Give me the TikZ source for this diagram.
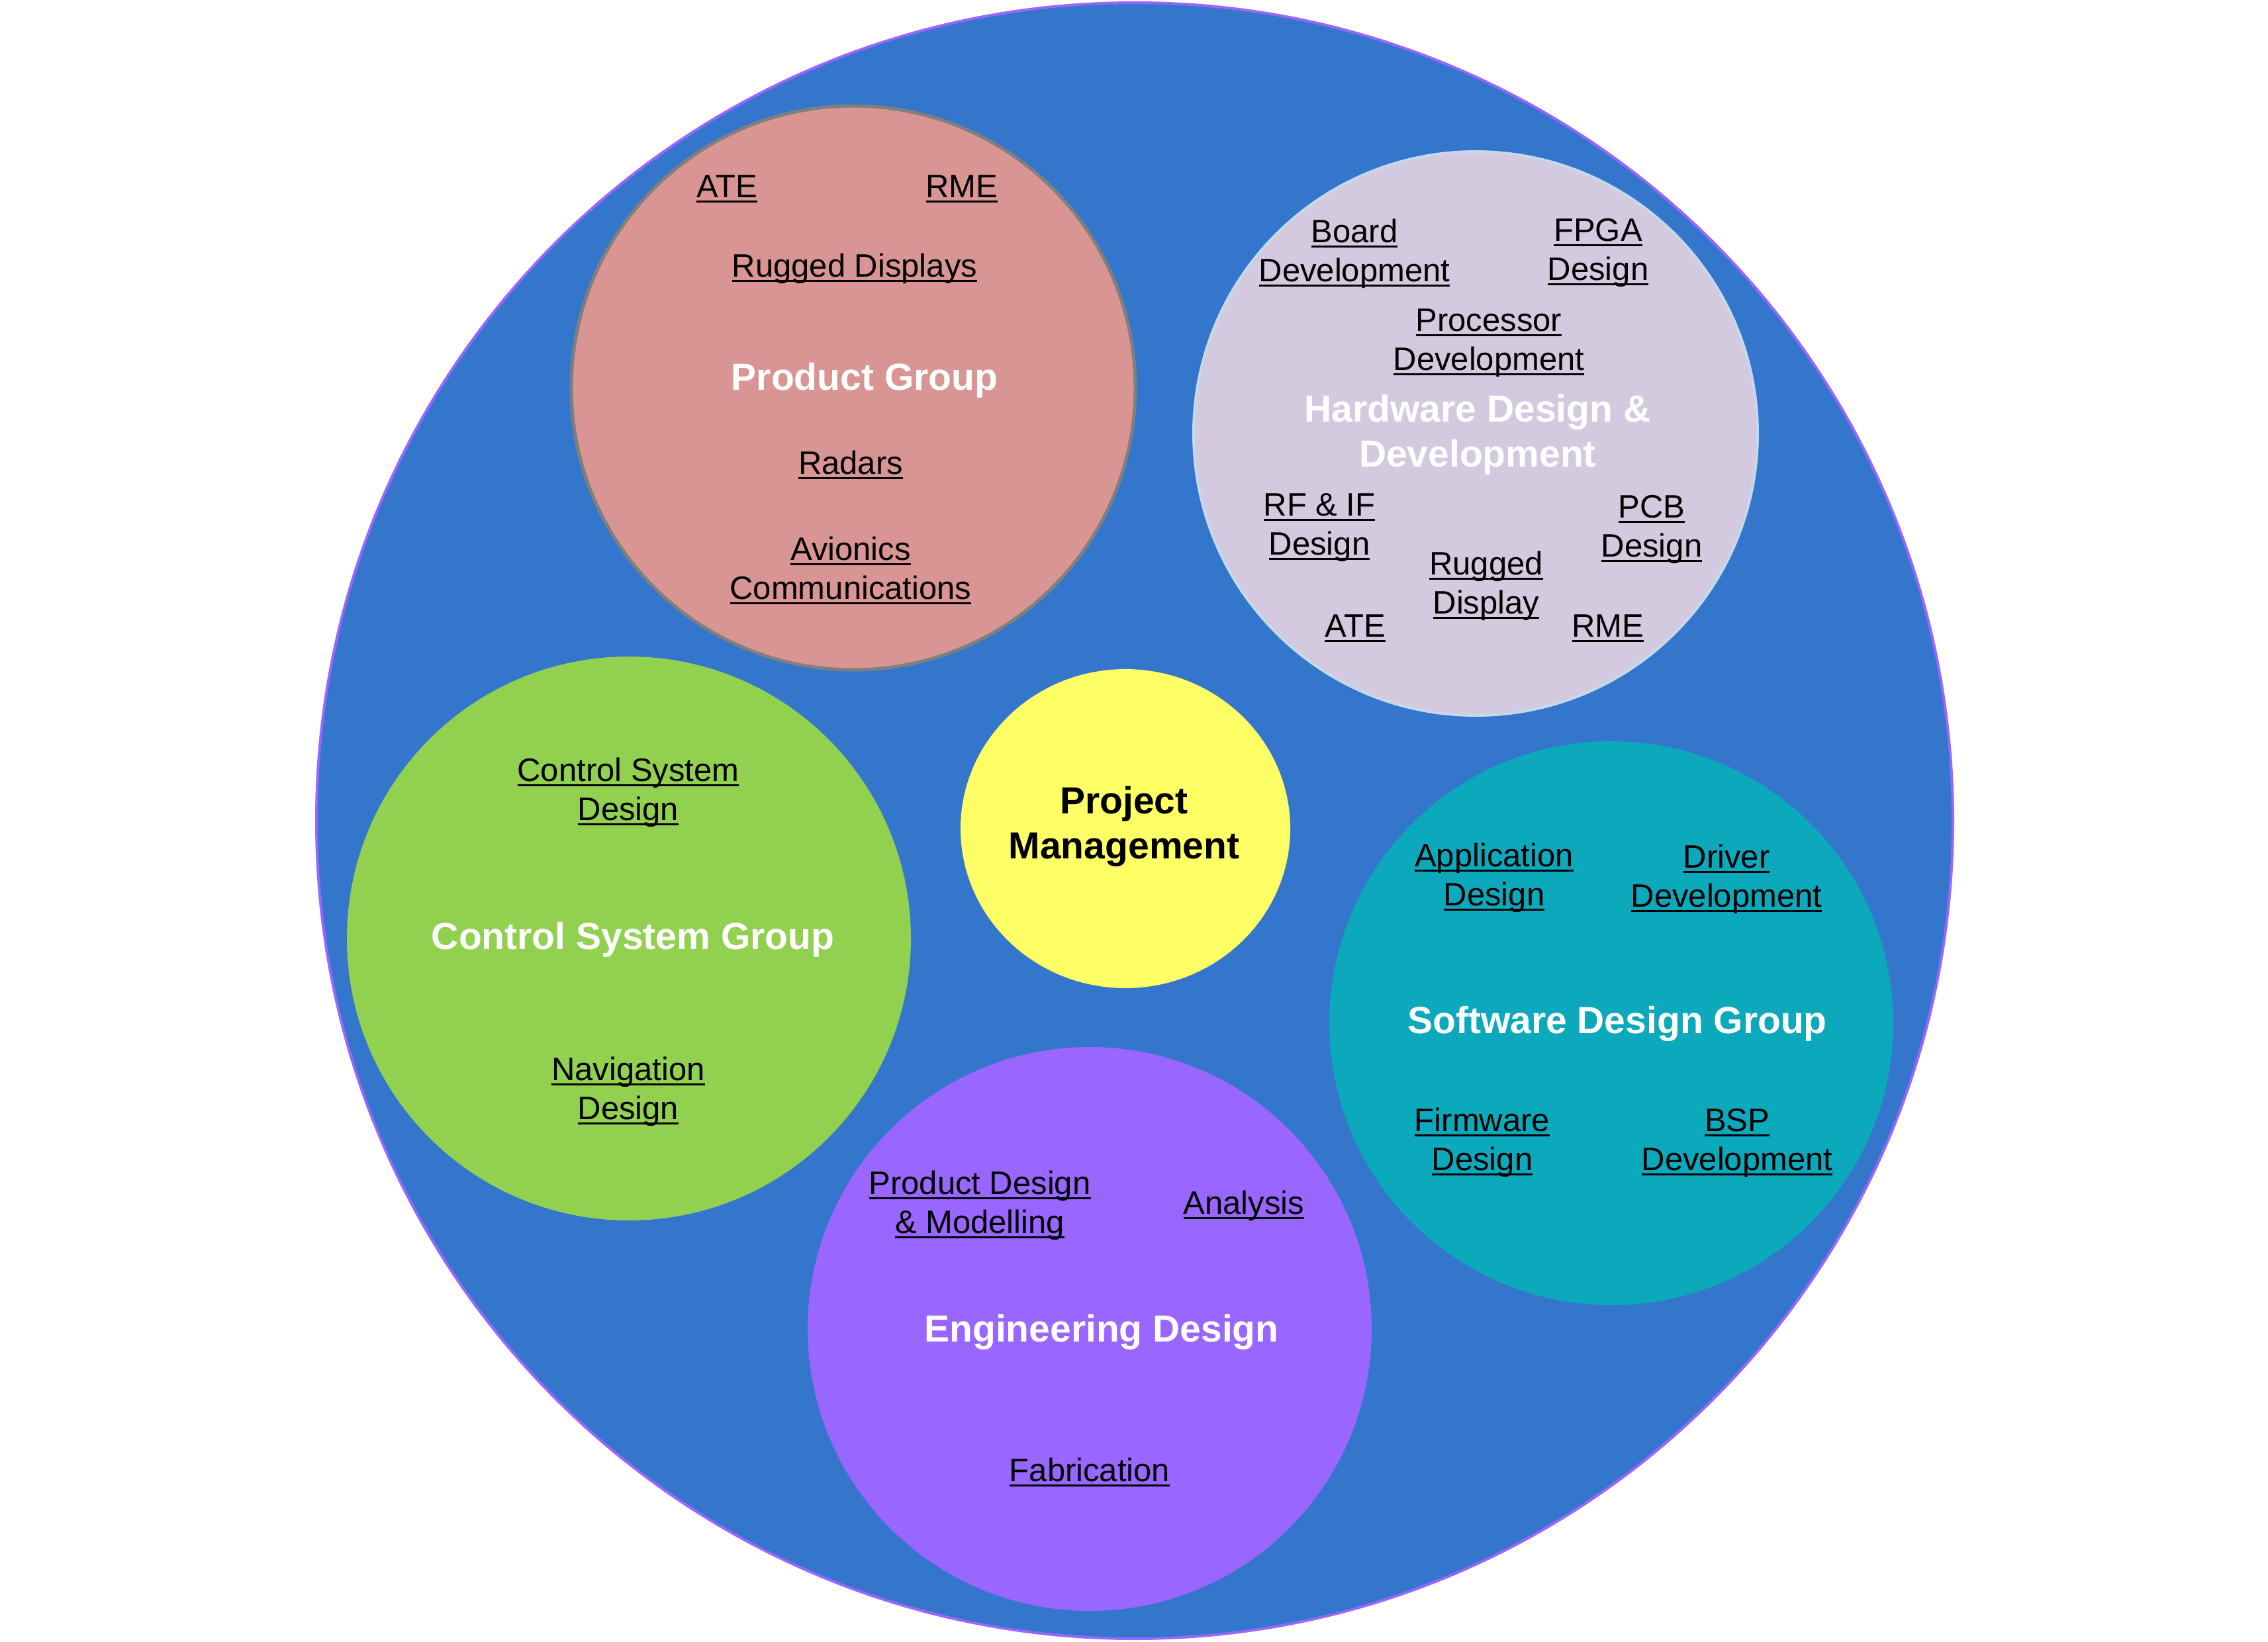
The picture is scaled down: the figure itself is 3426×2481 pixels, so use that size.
\documentclass[tikz,border=0pt]{standalone}
\usepackage{fontspec}
\setmainfont{Liberation Sans}
\usetikzlibrary{shapes.geometric}
\definecolor{bigblue}{HTML}{3476CC}
\definecolor{bigedge}{HTML}{9966FF}
\definecolor{prodfill}{HTML}{D99594}
\definecolor{prodedge}{HTML}{7F7F7F}
\definecolor{hwfill}{HTML}{D3CAE0}
\definecolor{hwedge}{HTML}{C5D9EA}
\definecolor{pmfill}{HTML}{FFFF66}
\definecolor{ctrlfill}{HTML}{92D050}
\definecolor{swfill}{HTML}{0CA8BC}
\definecolor{engfill}{HTML}{9966FF}
\newcommand\ulx[1]{\setbox0=\hbox{#1}\rlap{\rule[-0.17em]{\wd0}{0.065em}}\box0}
\newcommand\twol[2]{\vtop{\halign{\hfil##\hfil\cr\ulx{#1}\cr\ulx{#2}\cr}}}
\newcommand\twop[2]{\vtop{\halign{\hfil##\hfil\cr#1\cr#2\cr}}}
\begin{document}
\begin{tikzpicture}[x=1pt,y=-1pt,
  grp/.style={circle, minimum size=852pt, inner sep=0pt},
  sub/.style={font=\fontsize{49}{59}\selectfont, text=black, anchor=base, inner sep=0pt},
  ttl/.style={font=\fontsize{57}{68}\selectfont\bfseries, text=white, anchor=base, inner sep=0pt}]
\useasboundingbox (0,0) rectangle (3426,2481);
% outer circle
\node[circle, minimum size=2472pt, inner sep=0pt, fill=bigblue, draw=bigedge, line width=4pt] (outer) at (1714,1240) {};
% group circles
\node[grp, fill=prodfill, draw=prodedge, line width=5pt] (prod) at (1289,586) {};
\node[grp, fill=hwfill, draw=hwedge, line width=4pt] (hw) at (2229,655) {};
\node[grp, fill=ctrlfill] (ctrl) at (950,1418) {};
\node[grp, fill=swfill] (sw) at (2434,1546) {};
\node[grp, fill=engfill] (eng) at (1646,2008) {};
\node[ellipse, minimum width=498pt, minimum height=482pt, inner sep=0pt, fill=pmfill] (pm) at (1700,1252) {};
% Product Group
\node[sub] (p-ate) at (1098,298) {\ulx{ATE}};
\node[sub] (p-rme) at (1453,298) {\ulx{RME}};
\node[sub] (p-rug) at (1291,418) {\ulx{Rugged Displays}};
\node[ttl] (p-ttl) at (1306,589) {Product Group};
\node[sub] (p-rad) at (1285,716) {\ulx{Radars}};
\node[sub] (p-avi) at (1285,846) {\twol{Avionics}{Communications}};
% Hardware
\node[sub] (h-board) at (2046,366) {\twol{Board}{Development}};
\node[sub] (h-fpga) at (2414,364) {\twol{FPGA}{Design}};
\node[sub] (h-proc) at (2249,500) {\twol{Processor}{Development}};
\node[ttl] (h-ttl) at (2232,637) {\twop{Hardware Design \&}{Development}};
\node[sub] (h-rf) at (1993,779) {\twol{RF \& IF}{Design}};
\node[sub] (h-pcb) at (2495,782) {\twol{PCB}{Design}};
\node[sub] (h-rug) at (2245,868) {\twol{Rugged}{Display}};
\node[sub] (h-ate) at (2047,962) {\ulx{ATE}};
\node[sub] (h-rme) at (2429,962) {\ulx{RME}};
% Project Management
\node[ttl, text=black] (pm-ttl) at (1698,1229) {\twop{Project}{Management}};
% Control System Group
\node[sub] (c-csd) at (949,1180) {\twol{Control System}{Design}};
\node[ttl] (c-ttl) at (956,1434) {Control System Group};
\node[sub] (c-nav) at (949,1632) {\twol{Navigation}{Design}};
% Software Design Group
\node[sub] (s-app) at (2257,1309) {\twol{Application}{Design}};
\node[sub] (s-drv) at (2608,1311) {\twol{Driver}{Development}};
\node[ttl] (s-ttl) at (2443,1561) {Software Design Group};
\node[sub] (s-fw) at (2239,1709) {\twol{Firmware}{Design}};
\node[sub] (s-bsp) at (2624,1709) {\twol{BSP}{Development}};
% Engineering Design
\node[sub] (e-pdm) at (1480,1804) {\twol{Product Design}{\& Modelling}};
\node[sub] (e-ana) at (1879,1834) {\ulx{Analysis}};
\node[ttl] (e-ttl) at (1664,2027) {Engineering Design};
\node[sub] (e-fab) at (1646,2238) {\ulx{Fabrication}};
\end{tikzpicture}
\end{document}
